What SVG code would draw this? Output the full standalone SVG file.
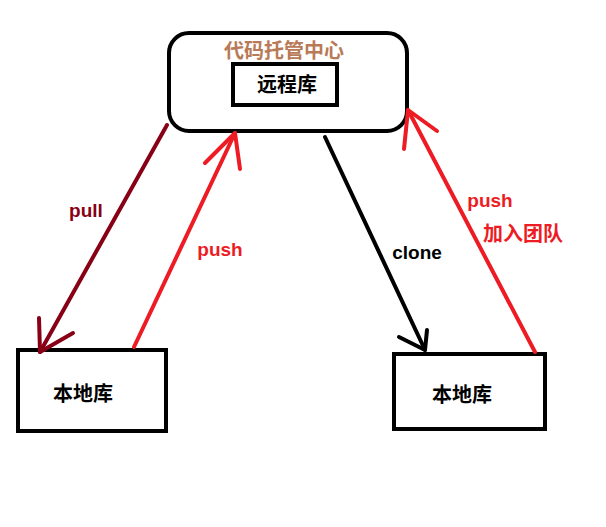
<svg xmlns="http://www.w3.org/2000/svg" width="606" height="527" viewBox="0 0 606 527">
<style>
.box{fill:#fff;stroke:#000;stroke-width:4}
.ln{fill:none;stroke-width:4;stroke-linecap:round;stroke-linejoin:round}
text{font-family:"Liberation Sans","Noto Sans CJK SC",sans-serif;font-weight:bold;font-size:19px;text-anchor:middle}
.cjk{font-family:"Noto Sans CJK SC","Liberation Sans",sans-serif;font-size:20px}
</style>
<rect width="606" height="527" fill="#fff"/>
<g id="center">
<rect class="box" x="169" y="33" width="238" height="98" rx="20"/>
<text class="cjk" x="284" y="58" fill="#b97a57">代码托管中心</text>
</g>
<g id="remote">
<rect class="box" x="233" y="64" width="104" height="41"/>
<text class="cjk" x="287" y="92" fill="#000">远程库</text>
</g>
<g id="local1">
<rect class="box" x="18" y="350" width="148" height="81"/>
<text class="cjk" x="83" y="401" fill="#000">本地库</text>
</g>
<g id="local2">
<rect class="box" x="394" y="354" width="151" height="75"/>
<text class="cjk" x="462" y="402" fill="#000">本地库</text>
</g>
<g id="connectors">
<g stroke="#880015" class="ln"><path d="M167,125 L40,352"/><path d="M39,318 L40,352 L73,333"/></g>
<g stroke="#ed1c24" class="ln"><path d="M134,347 L235,133"/><path d="M205,163 L235,133 L240,169"/></g>
<g stroke="#000" class="ln"><path d="M325,137 L425,350"/><path d="M427,330 L425,350 L399,337"/></g>
<g stroke="#ed1c24" class="ln"><path d="M535,352 L408,110"/><path d="M404,149 L408,110 L437,131"/></g>
<text x="86" y="217" fill="#880015">pull</text>
<text x="220" y="256" fill="#ed1c24">push</text>
<text x="417" y="259" fill="#000">clone</text>
<text x="490" y="207" fill="#ed1c24">push</text>
<text class="cjk" x="523" y="241" fill="#ed1c24">加入团队</text>
</g>
</svg>
